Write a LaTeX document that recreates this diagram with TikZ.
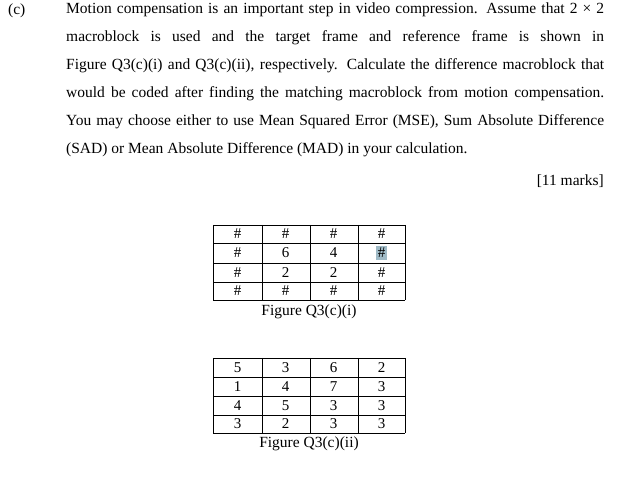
\documentclass[tikz,border=0pt]{standalone}
\usepackage{fontspec}
\setmainfont{Liberation Serif}
\begin{document}
\begin{tikzpicture}[x=1pt,y=-1pt,
  cell/.style={font=\fontsize{15}{16}\selectfont,anchor=center,inner sep=0pt},
  figcap/.style={font=\fontsize{15.5}{16}\selectfont,inner sep=0pt}]
\useasboundingbox (0,0) rectangle (641,484);
\node[anchor=north west,inner sep=0pt,font=\fontsize{15.5}{16}\selectfont] (lbl) at (8,4) {(c)};
\node[anchor=north west,inner sep=0pt,text width=538pt,align=justify,
  font=\fontsize{15.5}{28}\selectfont] (para) at (66,3) {\hyphenpenalty=10000 Motion compensation is an important step in video compression. Assume that 2 × 2\linebreak macroblock is used and the target frame and reference frame is shown in\linebreak Figure Q3(c)(i) and Q3(c)(ii), respectively. Calculate the difference macroblock that\linebreak would be coded after finding the matching macroblock from motion compensation.\linebreak You may choose either to use Mean Squared Error (MSE), Sum Absolute Difference\linebreak (SAD) or Mean Absolute Difference (MAD) in your calculation.};
\node[anchor=east,inner sep=0pt,font=\fontsize{15.5}{16}\selectfont] (marks) at (604,181) {[11 marks]};
% table 1
\fill[blue!30!cyan!25!gray!60] (376,246) rectangle (387,260);
\foreach \y in {225,243,263,282,300} \draw[line width=0.9pt] (213,\y) -- (405,\y);
\foreach \x in {213,262,310,358,405} \draw[line width=0.9pt] (\x,225) -- (\x,300);
\foreach \r [count=\i from 0] in {{\#,\#,\#,\#},{\#,6,4,\#},{\#,2,2,\#},{\#,\#,\#,\#}}{
  \foreach \v [count=\j from 0] in \r {
    \pgfmathsetmacro{\yy}{{234,253,272.5,291}[\i]}
    \pgfmathsetmacro{\xx}{237.5+48*\j}
    \node[cell] (a\i\j) at (\xx,\yy) {\v};}}
\node[figcap] (capA) at (309,312) {Figure Q3(c)(i)};
% table 2
\foreach \y in {358,377,396,415,433} \draw[line width=0.9pt] (213,\y) -- (405,\y);
\foreach \x in {213,262,310,358,405} \draw[line width=0.9pt] (\x,358) -- (\x,433);
\foreach \r [count=\i from 0] in {{5,3,6,2},{1,4,7,3},{4,5,3,3},{3,2,3,3}}{
  \foreach \v [count=\j from 0] in \r {
    \pgfmathsetmacro{\yy}{{367.5,386.5,405.5,424}[\i]}
    \pgfmathsetmacro{\xx}{237.5+48*\j}
    \node[cell] (b\i\j) at (\xx,\yy) {\v};}}
\node[figcap] (capB) at (309,444) {Figure Q3(c)(ii)};
\end{tikzpicture}
\end{document}
